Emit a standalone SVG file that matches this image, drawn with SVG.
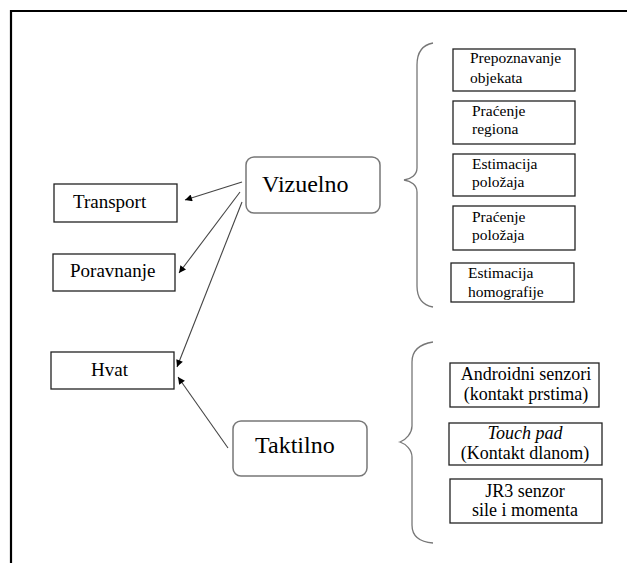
<svg xmlns="http://www.w3.org/2000/svg" width="627" height="563" viewBox="0 0 627 563">
<defs>
<marker id="ah" viewBox="0 0 10 10" refX="10" refY="5" markerWidth="9" markerHeight="7" markerUnits="userSpaceOnUse" orient="auto">
<path d="M0,0 L10,5 L0,10 z" fill="#000"/>
</marker>
<style>
text{fill:#000;font-family:Liberation Serif,Times New Roman,Times,DejaVu Serif,serif}
.box{fill:#fff;stroke:#222;stroke-width:1.3}
.rbox{fill:#fff;stroke:#777;stroke-width:1.5}
.big{font-size:24px}
.mid{font-size:19px}
.sm{font-size:15.5px}
.tc{font-size:18px;text-anchor:middle}
.conn{stroke:#444;stroke-width:1.1;fill:none}
.brace{stroke:#777;stroke-width:1.3;fill:none}
</style>
</defs>
<rect width="627" height="563" fill="#fff"/>
<path d="M11,563 V11 H627" fill="none" stroke="#000" stroke-width="2.2"/>

<g id="vizuelno"><rect class="rbox" x="246" y="157" width="134" height="56" rx="8"/><text class="big" x="262" y="192">Vizuelno</text></g>
<g id="taktilno"><rect class="rbox" x="233" y="421" width="134" height="55" rx="8"/><text class="big" x="255" y="453">Taktilno</text></g>
<g id="transport"><rect class="box" x="54" y="184" width="123" height="38"/><text class="mid" x="73" y="208">Transport</text></g>
<g id="poravnanje"><rect class="box" x="53" y="254" width="122" height="37"/><text class="mid" x="70" y="277">Poravnanje</text></g>
<g id="hvat"><rect class="box" x="51" y="352" width="123" height="37"/><text class="mid" x="91" y="376">Hvat</text></g>

<g id="prepoznavanje"><rect class="box" x="453" y="49" width="122" height="42"/><text class="sm" x="470" y="63">Prepoznavanje</text><text class="sm" x="470" y="83">objekata</text></g>
<g id="pracenje-regiona"><rect class="box" x="453" y="101" width="122" height="43"/><text class="sm" x="472" y="116">Praćenje</text><text class="sm" x="472" y="134">regiona</text></g>
<g id="estimacija-polozaja"><rect class="box" x="453" y="154" width="122" height="42"/><text class="sm" x="472" y="169">Estimacija</text><text class="sm" x="472" y="187">položaja</text></g>
<g id="pracenje-polozaja"><rect class="box" x="453" y="206" width="122" height="44"/><text class="sm" x="472" y="222">Praćenje</text><text class="sm" x="472" y="240">položaja</text></g>
<g id="estimacija-homografije"><rect class="box" x="451" y="263" width="123" height="39"/><text class="sm" x="468" y="278">Estimacija</text><text class="sm" x="468" y="297">homografije</text></g>

<g id="androidni"><rect class="box" x="450" y="363" width="149" height="44"/><text class="tc" x="526" y="380">Androidni senzori</text><text class="tc" x="526" y="400">(kontakt prstima)</text></g>
<g id="touchpad"><rect class="box" x="449" y="423" width="153" height="42"/><text class="tc" x="525" y="439" font-style="italic">Touch pad</text><text class="tc" x="525" y="459">(Kontakt dlanom)</text></g>
<g id="jr3"><rect class="box" x="450" y="479" width="152" height="44"/><text class="tc" x="525" y="497">JR3 senzor</text><text class="tc" x="525" y="516">sile i momenta</text></g>

<g id="braces">
<path class="brace" d="M433,43 C422,45 417,53 417,65 V168 C417,175 411,179 404,180 C411,181 417,185 417,192 V286 C417,298 422,305 433,307"/>
<path class="brace" d="M433,342 C420,344 412,350 412,362 V426 C412,433 406,440 400,442 C406,444 412,450 412,457 V525 C412,537 420,542 433,543"/>
</g>

<g id="connectors">
<line class="conn" x1="242" y1="182" x2="185" y2="200" marker-end="url(#ah)"/>
<line class="conn" x1="240" y1="192" x2="179" y2="273" marker-end="url(#ah)"/>
<line class="conn" x1="242" y1="202" x2="177" y2="367" marker-end="url(#ah)"/>
<line class="conn" x1="228" y1="448" x2="178" y2="377" marker-end="url(#ah)"/>
</g>
</svg>
